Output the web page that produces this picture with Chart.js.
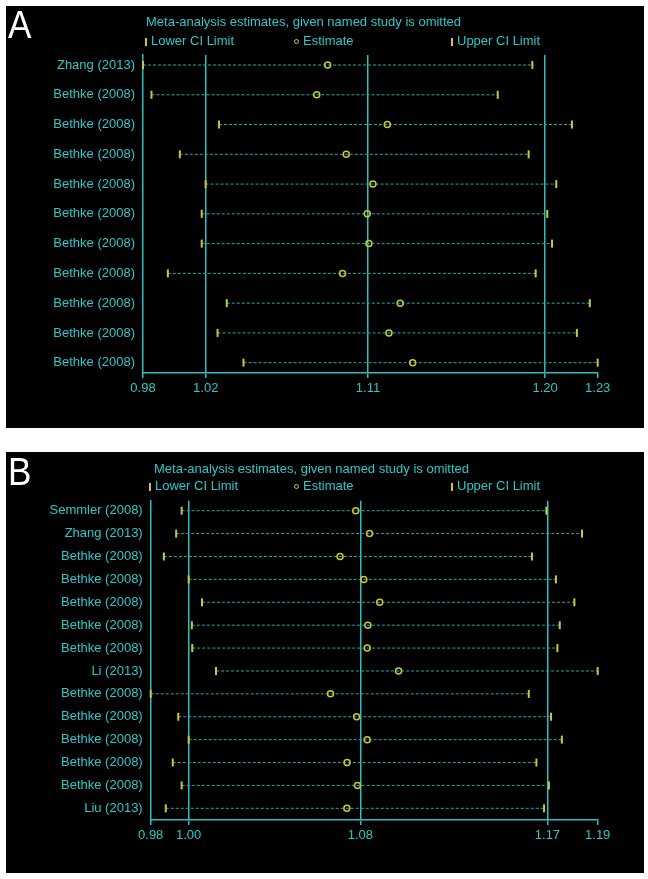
<!DOCTYPE html>
<html>
<head>
<meta charset="utf-8">
<script src="https://cdn.jsdelivr.net/npm/chart.js@4.4.1/dist/chart.umd.min.js"></script>
<style>
  html, body { margin:0; padding:0; background:#ffffff; }
  body { width:648px; height:879px; position:relative; overflow:hidden; font-family:"Liberation Sans", Arial, sans-serif; }
  .panel { position:absolute; left:6px; width:638px; background:#000; }
  .panel canvas { position:absolute; left:0; top:0; }
  .letter { position:absolute; color:#fff; font-size:39px; line-height:39px; font-family:"Liberation Sans", Arial, sans-serif; transform:scaleX(0.9); transform-origin:left top; }
  .txt { position:absolute; color:#2cc7c9; font-size:13px; line-height:15px; white-space:nowrap; }
  .bar { display:inline-block; width:2px; height:8px; background:#c8c83a; margin-right:4px; vertical-align:-1px; }
  .circ { display:inline-block; width:3px; height:3px; border:1.5px solid #c8c83a; border-radius:50%; margin-right:4px; vertical-align:1px; }
</style>
</head>
<body>
<div class="panel" id="pA" style="top:6px;height:422px;"><canvas id="cA" width="638" height="422"></canvas></div>
<div class="panel" id="pB" style="top:452px;height:421px;"><canvas id="cB" width="638" height="421"></canvas></div>

<div class="letter" style="left:8px;top:5px;">A</div>
<div class="txt" style="left:146px;top:14px;">Meta-analysis estimates, given named study is omitted</div>
<div class="txt" style="left:145px;top:33px;"><span class="bar"></span>Lower CI Limit</div>
<div class="txt" style="left:294px;top:33px;"><span class="circ"></span>Estimate</div>
<div class="txt" style="left:451px;top:33px;"><span class="bar"></span>Upper CI Limit</div>

<div class="letter" style="left:8px;top:452px;">B</div>
<div class="txt" style="left:154px;top:461px;">Meta-analysis estimates, given named study is omitted</div>
<div class="txt" style="left:149px;top:478px;"><span class="bar"></span>Lower CI Limit</div>
<div class="txt" style="left:294px;top:478px;"><span class="circ"></span>Estimate</div>
<div class="txt" style="left:451px;top:478px;"><span class="bar"></span>Upper CI Limit</div>

<script>
// ---------- Panel A data ----------
const studiesA = ["Zhang (2013)", "Bethke (2008)", "Bethke (2008)", "Bethke (2008)", "Bethke (2008)",
  "Bethke (2008)", "Bethke (2008)", "Bethke (2008)", "Bethke (2008)", "Bethke (2008)", "Bethke (2008)"];
const lowerA = [0.9837, 0.9883, 1.0250, 1.0037, 1.0177, 1.0156, 1.0156, 0.9972, 1.0292, 1.0242, 1.0383];
const estA   = [1.0840, 1.0781, 1.1164, 1.0941, 1.1086, 1.1055, 1.1064, 1.0921, 1.1234, 1.1173, 1.1302];
const upperA = [1.1952, 1.1764, 1.2167, 1.1932, 1.2082, 1.2033, 1.2059, 1.1970, 1.2264, 1.2194, 1.2307];
const overallA = [1.0178, 1.1059, 1.2021]; // combined lower CI, estimate, upper CI

// ---------- Panel B data ----------
const studiesB = ["Semmler (2008)", "Zhang (2013)", "Bethke (2008)", "Bethke (2008)", "Bethke (2008)",
  "Bethke (2008)", "Bethke (2008)", "Li (2013)", "Bethke (2008)", "Bethke (2008)", "Bethke (2008)",
  "Bethke (2008)", "Bethke (2008)", "Liu (2013)"];
const lowerB = [0.9957, 0.9931, 0.9873, 0.9990, 1.0053, 1.0005, 1.0007, 1.0119, 0.9811, 0.9941, 0.9990, 0.9915, 0.9957, 0.9882];
const estB   = [1.0778, 1.0843, 1.0704, 1.0816, 1.0891, 1.0835, 1.0832, 1.0980, 1.0659, 1.0782, 1.0832, 1.0737, 1.0786, 1.0736];
const upperB = [1.1677, 1.1845, 1.1609, 1.1722, 1.1809, 1.1740, 1.1729, 1.1919, 1.1594, 1.1699, 1.1750, 1.1630, 1.1689, 1.1666];
const overallB = [0.9990, 1.0800, 1.1682];

const CYAN = '#2cc7c9';
const LINE = '#2bbfc1';
const DOT = '#22a9ab';
const YEL = '#c8c83a';
const FONT = { family: '"Liberation Sans", Arial, sans-serif', size: 13 };

function buildChart(canvasId, studies, lower, est, upper, overall, geo) {
  const n = studies.length;
  const xMin = Math.min(...lower), xMax = Math.max(...upper);
  const tickVals = [xMin, ...overall, xMax];
  const datasets = [
    { data: lower.map((v, i) => ({ x: v, y: i + 1 })), pointStyle: 'line', pointRotation: 90,
      radius: 4, borderWidth: 2, borderColor: YEL, backgroundColor: YEL, showLine: false, clip: false, order: 0 },
    { data: upper.map((v, i) => ({ x: v, y: i + 1 })), pointStyle: 'line', pointRotation: 90,
      radius: 4, borderWidth: 2, borderColor: YEL, backgroundColor: YEL, showLine: false, clip: false, order: 0 },
    { data: est.map((v, i) => ({ x: v, y: i + 1 })), pointStyle: 'circle',
      radius: 3, borderWidth: 1.5, borderColor: YEL, backgroundColor: 'rgba(0,0,0,0)', showLine: false, clip: false, order: 0 }
  ];
  studies.forEach((s, i) => {
    datasets.push({ data: [{ x: lower[i], y: i + 1 }, { x: upper[i], y: i + 1 }], showLine: true,
      borderColor: DOT, borderWidth: 1, borderDash: [3, 2], pointRadius: 0, clip: false, order: 1 });
  });
  return new Chart(document.getElementById(canvasId), {
    type: 'scatter',
    data: { datasets },
    options: {
      responsive: false, animation: false, devicePixelRatio: 1, events: [],
      layout: { padding: { top: geo.top, right: geo.W - geo.right, left: 0, bottom: 0 } },
      plugins: { legend: { display: false }, tooltip: { enabled: false }, title: { display: false } },
      scales: {
        x: {
          type: 'linear', min: xMin, max: xMax,
          afterBuildTicks: (sc) => { sc.ticks = tickVals.map(v => ({ value: v })); },
          afterFit: (sc) => { sc.height = geo.H - geo.bottom; },
          ticks: { color: CYAN, font: FONT, autoSkip: false, maxRotation: 0, padding: 3,
                   callback: (v) => Number(v).toFixed(2) },
          grid: { drawOnChartArea: true, drawTicks: true, tickLength: 5, lineWidth: 1.5, tickColor: LINE, tickWidth: 1.5,
                  color: (ctx) => (ctx.index === 0 || ctx.index === tickVals.length - 1) ? 'rgba(0,0,0,0)' : LINE },
          border: { display: true, color: LINE, width: 1.5 }
        },
        y: {
          type: 'linear', reverse: true, min: 1 - geo.padRow[0], max: n + geo.padRow[1],
          afterBuildTicks: (sc) => { sc.ticks = studies.map((s, i) => ({ value: i + 1 })); },
          afterFit: (sc) => { sc.width = geo.left; },
          ticks: { color: CYAN, font: FONT, autoSkip: false, padding: 8,
                   callback: (v) => studies[Math.round(v) - 1] },
          grid: { display: true, drawOnChartArea: false, drawTicks: false, color: 'rgba(0,0,0,0)' },
          border: { display: true, color: LINE, width: 1.5 }
        }
      }
    }
  });
}

buildChart('cA', studiesA, lowerA, estA, upperA, overallA,
  { W: 638, H: 422, left: 137, right: 591.7, top: 49, bottom: 367, padRow: [0.336, 0.346] });
buildChart('cB', studiesB, lowerB, estB, upperB, overallB,
  { W: 638, H: 421, left: 144.7, right: 591.7, top: 48.7, bottom: 368, padRow: [0.437, 0.51] });
</script>
</body>
</html>
